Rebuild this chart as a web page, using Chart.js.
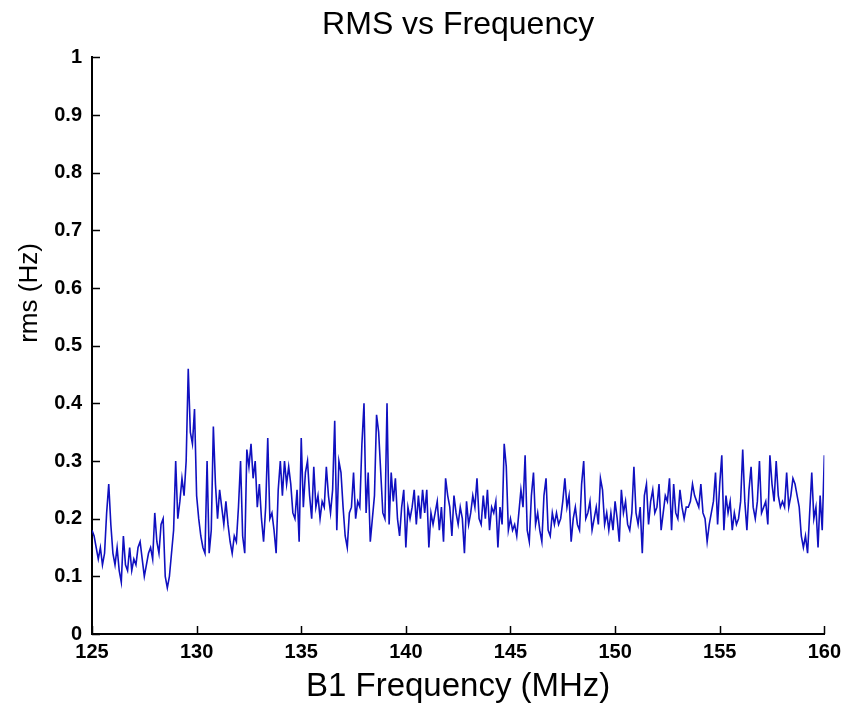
<!DOCTYPE html>
<html>
<head>
<meta charset="utf-8">
<script src="https://cdn.jsdelivr.net/npm/chart.js@4/dist/chart.umd.min.js"></script>
<style>
  html, body { margin: 0; padding: 0; background: #fff; }
  #wrap { width: 847px; height: 708px; }
</style>
</head>
<body>
<div id="wrap"><canvas id="chart" width="847" height="708"></canvas></div>
<script>
// sweep: 125 MHz to 160 MHz, one sample every 0.1 MHz
const freqStart = 125;
const freqStep = 0.1;

// rms (Hz), split per 5 MHz
const rms125 = [0.18,0.17,0.15,0.13,0.15,0.12,0.14,0.21,0.26,0.19,
  0.14,0.12,0.15,0.11,0.09,0.17,0.12,0.11,0.15,0.11,
  0.13,0.12,0.15,0.16,0.13,0.10,0.12,0.14,0.15,0.13,
  0.21,0.16,0.14,0.19,0.20,0.10,0.08,0.10,0.14,0.18,
  0.30,0.20,0.23,0.27,0.24,0.30,0.46,0.35,0.33,0.39];
const rms130 = [0.24,0.20,0.17,0.15,0.14,0.30,0.14,0.18,0.36,0.26,
  0.20,0.25,0.22,0.19,0.23,0.19,0.16,0.14,0.17,0.16,
  0.22,0.30,0.17,0.14,0.32,0.29,0.33,0.27,0.30,0.22,
  0.26,0.20,0.16,0.22,0.34,0.20,0.21,0.18,0.14,0.25,
  0.30,0.24,0.30,0.26,0.29,0.26,0.21,0.20,0.25,0.16];
const rms135 = [0.34,0.22,0.28,0.30,0.24,0.20,0.29,0.22,0.24,0.20,
  0.23,0.22,0.29,0.24,0.21,0.25,0.37,0.18,0.30,0.28,
  0.22,0.17,0.15,0.21,0.22,0.28,0.20,0.23,0.22,0.33,
  0.40,0.21,0.28,0.16,0.20,0.24,0.38,0.35,0.28,0.21,
  0.20,0.40,0.19,0.28,0.23,0.27,0.20,0.17,0.22,0.25];
const rms140 = [0.15,0.22,0.20,0.22,0.25,0.19,0.24,0.20,0.25,0.21,
  0.25,0.15,0.21,0.19,0.21,0.23,0.18,0.22,0.16,0.27,
  0.24,0.22,0.17,0.24,0.21,0.19,0.22,0.20,0.14,0.23,
  0.19,0.21,0.24,0.22,0.27,0.20,0.19,0.24,0.20,0.25,
  0.18,0.22,0.21,0.23,0.15,0.22,0.19,0.33,0.29,0.18];
const rms145 = [0.20,0.18,0.19,0.17,0.21,0.25,0.22,0.31,0.18,0.16,
  0.24,0.28,0.19,0.21,0.18,0.16,0.24,0.27,0.18,0.17,
  0.21,0.19,0.21,0.19,0.20,0.23,0.27,0.22,0.24,0.16,
  0.20,0.22,0.19,0.18,0.26,0.30,0.20,0.21,0.23,0.18,
  0.20,0.22,0.19,0.27,0.25,0.19,0.21,0.18,0.21,0.18];
const rms150 = [0.23,0.20,0.16,0.25,0.21,0.23,0.19,0.18,0.21,0.29,
  0.21,0.19,0.22,0.14,0.24,0.26,0.19,0.23,0.25,0.21,
  0.22,0.26,0.18,0.21,0.24,0.23,0.27,0.18,0.26,0.21,
  0.20,0.25,0.22,0.20,0.22,0.22,0.23,0.26,0.24,0.23,
  0.22,0.26,0.21,0.20,0.16,0.19,0.21,0.23,0.28,0.19];
const rms155 = [0.26,0.31,0.18,0.24,0.21,0.23,0.18,0.21,0.19,0.20,
  0.23,0.32,0.23,0.18,0.25,0.29,0.22,0.20,0.23,0.30,
  0.21,0.22,0.23,0.19,0.31,0.26,0.23,0.30,0.24,0.22,
  0.23,0.22,0.28,0.22,0.24,0.27,0.26,0.24,0.22,0.17,
  0.15,0.17,0.14,0.21,0.28,0.20,0.22,0.15,0.24,0.18,
  0.31];

const xTicks = [125, 130, 135, 140, 145, 150, 155, 160];

const rms = [].concat(rms125, rms130, rms135, rms140, rms145, rms150, rms155);
const points = rms.map((v, i) => ({ x: +(freqStart + i * freqStep).toFixed(1), y: v }));

const axisFont = { family: 'Liberation Sans', size: 20, weight: 'bold' };

// MATLAB style: tick marks on the inside of the axes, and the y label
const insideTicks = {
  id: 'insideTicks',
  afterDraw(chart) {
    const ctx = chart.ctx;
    const xs = chart.scales.x, ys = chart.scales.y;
    const area = chart.chartArea;
    ctx.save();
    ctx.strokeStyle = '#000';
    ctx.lineWidth = 1.5;
    ctx.beginPath();
    xs.ticks.forEach((t) => {
      const px = Math.round(xs.getPixelForValue(t.value)) + 0.5;
      ctx.moveTo(px, area.bottom);
      ctx.lineTo(px, area.bottom - 8);
    });
    ys.ticks.forEach((t) => {
      const py = Math.round(ys.getPixelForValue(t.value)) + 0.5;
      ctx.moveTo(area.left, py);
      ctx.lineTo(area.left + 8, py);
    });
    ctx.stroke();

    ctx.fillStyle = '#000';
    ctx.font = '26px "Liberation Sans"';
    ctx.textAlign = 'center';
    ctx.textBaseline = 'middle';
    ctx.translate(30, 293);
    ctx.rotate(-Math.PI / 2);
    ctx.fillText('rms (Hz)', 0, 0);
    ctx.restore();
  }
};

new Chart(document.getElementById('chart'), {
  type: 'line',
  data: {
    datasets: [{
      data: points,
      borderColor: '#1010c0',
      borderWidth: 1.6,
      pointRadius: 0,
      tension: 0,
      fill: false
    }]
  },
  options: {
    responsive: false,
    animation: false,
    layout: { padding: { left: 0, right: 20, top: 0, bottom: 0 } },
    plugins: {
      legend: { display: false },
      tooltip: { enabled: false },
      title: {
        display: true,
        text: 'RMS vs Frequency',
        fullSize: false,
        color: '#000',
        font: { family: 'Liberation Sans', size: 32, weight: 'normal' },
        padding: { top: 6, bottom: 13 }
      }
    },
    scales: {
      x: {
        type: 'linear',
        min: 125,
        max: 160,
        afterFit(scale) { scale.height = 74; },
        afterBuildTicks(scale) { scale.ticks = xTicks.map((v) => ({ value: v })); },
        grid: { display: false, drawTicks: false },
        border: { display: true, color: '#000', width: 2 },
        ticks: { color: '#000', font: axisFont, padding: 6, maxRotation: 0 },
        title: {
          display: true,
          text: 'B1 Frequency (MHz)',
          color: '#000',
          font: { family: 'Liberation Sans', size: 33 },
          padding: { top: 0, bottom: 1 }
        }
      },
      y: {
        min: 0,
        max: 1,
        afterFit(scale) { scale.width = 92; },
        grid: { display: false, drawTicks: false },
        border: { display: true, color: '#000', width: 2 },
        ticks: {
          color: '#000',
          font: axisFont,
          padding: 10,
          stepSize: 0.1,
          callback: (v) => String(+v.toFixed(1))
        }
      }
    }
  },
  plugins: [insideTicks]
});
</script>
</body>
</html>
